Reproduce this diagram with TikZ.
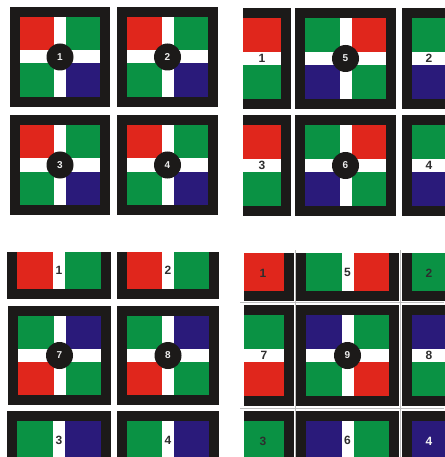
\documentclass[tikz,border=0pt]{standalone}
\usepackage{fontspec}
\setmainfont{Liberation Sans}
\definecolor{tred}{HTML}{E0261C}
\definecolor{tgreen}{HTML}{0A9244}
\definecolor{tblue}{HTML}{2A1A7A}
\definecolor{tblack}{HTML}{1C1A19}
\definecolor{tlabel}{HTML}{2E2E2E}
\definecolor{tsep}{HTML}{BDBDBD}
\tikzset{
  circlab/.style={circle,fill=tblack,minimum size=27pt,inner sep=0pt,text=gray!15,font=\bfseries\fontsize{10}{10}\selectfont},
  plainlab/.style={inner sep=0pt,text=tlabel,font=\bfseries\fontsize{12}{12}\selectfont},
  whitelab/.style={inner sep=0pt,text=gray!10,font=\bfseries\fontsize{12}{12}\selectfont},
  sepline/.style={draw=tsep,line width=0.8pt}
}
% full tile: x0 y0 x1 y1 TL TR BL BR label
\newcommand\fulltile[9]{%
  \pgfmathsetmacro\tAx{#1+10}\pgfmathsetmacro\tAy{#2+10}%
  \pgfmathsetmacro\tBx{#3-10}\pgfmathsetmacro\tBy{#4-10}%
  \pgfmathsetmacro\tCx{(#1+#3)/2}\pgfmathsetmacro\tCy{(#2+#4)/2}%
  \fill[tblack] (#1,#2) rectangle (#3,#4);
  \fill[#5] (\tAx,\tAy) rectangle (\tCx,\tCy);
  \fill[#6] (\tCx,\tAy) rectangle (\tBx,\tCy);
  \fill[#7] (\tAx,\tCy) rectangle (\tCx,\tBy);
  \fill[#8] (\tCx,\tCy) rectangle (\tBx,\tBy);
  \fill[white] (\tCx-6,\tAy) rectangle (\tCx+6,\tBy);
  \fill[white] (\tAx,\tCy-6.5) rectangle (\tBx,\tCy+6.5);
  \node[circlab] (tile#9) at (\tCx,\tCy) {#9};
}
% piece split top/bottom: x0 y0 x1 y1 ix0 ix1 top bottom label
\newcommand\hpiece[9]{%
  \pgfmathsetmacro\tAy{#2+10}\pgfmathsetmacro\tBy{#4-10}%
  \pgfmathsetmacro\tCy{(#2+#4)/2}\pgfmathsetmacro\tCx{(#5+#6)/2}%
  \fill[tblack] (#1,#2) rectangle (#3,#4);
  \fill[#7] (#5,\tAy) rectangle (#6,\tCy);
  \fill[#8] (#5,\tCy) rectangle (#6,\tBy);
  \fill[white] (#5,\tCy-6.5) rectangle (#6,\tCy+6.5);
  \node[plainlab] (hp#9) at (\tCx,\tCy) {#9};
}
% piece split left/right: x0 y0 x1 y1 iy0 iy1 left right label
\newcommand\vpiece[9]{%
  \pgfmathsetmacro\tAx{#1+10}\pgfmathsetmacro\tBx{#3-10}%
  \pgfmathsetmacro\tCx{(#1+#3)/2}\pgfmathsetmacro\tCy{(#5+#6)/2}%
  \fill[tblack] (#1,#2) rectangle (#3,#4);
  \fill[#7] (\tAx,#5) rectangle (\tCx,#6);
  \fill[#8] (\tCx,#5) rectangle (\tBx,#6);
  \fill[white] (\tCx-6,#5) rectangle (\tCx+6,#6);
  \node[plainlab] (vp#9) at (\tCx,\tCy) {#9};
}
\begin{document}
\begin{tikzpicture}[x=1pt,y=-1pt]
\useasboundingbox (0,0) rectangle (444,457);
\fill[white] (0,0) rectangle (444,457);

% ---- top-left: tiles 1-4
\fulltile{10}{7}{110}{107}{tred}{tgreen}{tgreen}{tblue}{1}
\fulltile{117}{7}{218}{107}{tred}{tgreen}{tgreen}{tblue}{2}
\fulltile{10}{115}{110}{215}{tred}{tgreen}{tgreen}{tblue}{3}
\fulltile{117}{115}{218}{215}{tred}{tgreen}{tgreen}{tblue}{4}

% ---- top-right: tiles 5,6 with side pieces
\hpiece{243}{8}{291}{109}{243}{281}{tred}{tgreen}{1}
\fulltile{295}{8}{396}{109}{tgreen}{tred}{tblue}{tgreen}{5}
\hpiece{402}{8}{446}{109}{412}{446}{tgreen}{tblue}{2}
\hpiece{243}{115}{291}{216}{243}{281}{tred}{tgreen}{3}
\fulltile{295}{115}{396}{216}{tgreen}{tred}{tblue}{tgreen}{6}
\hpiece{402}{115}{446}{216}{412}{446}{tgreen}{tblue}{4}

% ---- bottom-left: tiles 7,8 with pieces above and below
\fill[tblack] (7,252) rectangle (111,299);
\vpiece{7}{252}{111}{299}{252}{289}{tred}{tgreen}{1}
\vpiece{117}{252}{219}{299}{252}{289}{tred}{tgreen}{2}
\fulltile{8}{306}{111}{405}{tgreen}{tblue}{tred}{tgreen}{7}
\fulltile{117}{306}{219}{405}{tgreen}{tblue}{tred}{tgreen}{8}
\vpiece{7}{411}{111}{459}{421}{459}{tgreen}{tblue}{3}
\vpiece{117}{411}{219}{459}{421}{459}{tgreen}{tblue}{4}

% ---- bottom-right: tile 9 with pieces all round
\draw[sepline] (240,302.5) -- (444,302.5);
\draw[sepline] (240,408) -- (444,408);
\draw[sepline] (295,250) -- (295,457);
\draw[sepline] (400.5,250) -- (400.5,457);
% corner 1
\fill[tblack] (244,253) rectangle (294,301);
\fill[tred] (244,253) rectangle (284,291);
\node[plainlab] (d1) at (263,273) {1};
% top 5
\vpiece{296}{253}{399}{301}{253}{291}{tgreen}{tred}{5}
% corner 2
\fill[tblack] (402,253) rectangle (446,301);
\fill[tgreen] (412,253) rectangle (446,291);
\node[plainlab] (d2) at (429,273) {2};
% middle row
\hpiece{244}{305}{294}{406}{244}{284}{tgreen}{tred}{7}
\fulltile{296}{305}{399}{406}{tblue}{tgreen}{tgreen}{tred}{9}
\hpiece{402}{305}{446}{406}{412}{446}{tblue}{tgreen}{8}
% corner 3
\fill[tblack] (244,411) rectangle (294,459);
\fill[tgreen] (244,421) rectangle (284,459);
\node[plainlab] (d3) at (263,441) {3};
% bottom 6
\vpiece{296}{411}{399}{459}{421}{459}{tblue}{tgreen}{6}
% corner 4
\fill[tblack] (402,411) rectangle (446,459);
\fill[tblue] (412,421) rectangle (446,459);
\node[whitelab] (d4) at (429,441) {4};
\end{tikzpicture}
\end{document}
